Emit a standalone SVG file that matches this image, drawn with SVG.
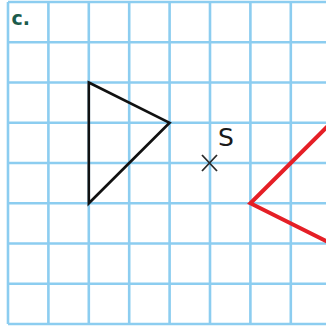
<svg xmlns="http://www.w3.org/2000/svg" width="326" height="329" viewBox="0 0 326 329">
<style>
.grid line{stroke:#8ccdf0;stroke-width:2.6}
.lbl{font-family:"DejaVu Sans",Verdana,sans-serif}
</style>
<rect width="326" height="329" fill="#ffffff"/>
<g class="grid" id="grid">
<line x1="8" y1="2" x2="8" y2="324"/>
<line x1="48.4" y1="2" x2="48.4" y2="324"/>
<line x1="88.8" y1="2" x2="88.8" y2="324"/>
<line x1="129.2" y1="2" x2="129.2" y2="324"/>
<line x1="169.6" y1="2" x2="169.6" y2="324"/>
<line x1="210" y1="2" x2="210" y2="324"/>
<line x1="250.4" y1="2" x2="250.4" y2="324"/>
<line x1="290.8" y1="2" x2="290.8" y2="324"/>
<line x1="8" y1="2" x2="326" y2="2"/>
<line x1="8" y1="42.25" x2="326" y2="42.25"/>
<line x1="8" y1="82.5" x2="326" y2="82.5"/>
<line x1="8" y1="122.75" x2="326" y2="122.75"/>
<line x1="8" y1="163" x2="326" y2="163"/>
<line x1="8" y1="203.25" x2="326" y2="203.25"/>
<line x1="8" y1="243.5" x2="326" y2="243.5"/>
<line x1="8" y1="283.75" x2="326" y2="283.75"/>
<line x1="8" y1="324" x2="326" y2="324"/>
</g>
<text id="label-c" class="lbl" x="11.5" y="25" font-size="19" font-weight="bold" fill="#1b5b4c">c.</text>
<g id="triangle">
<polygon points="88.8,82.5 169.6,122.75 88.8,203.25" fill="none" stroke="#111111" stroke-width="2.6" stroke-linejoin="miter"/>
</g>
<g id="image-triangle">
<polyline points="331.2,122.75 250.4,203.25 331.2,243.5" fill="none" stroke="#e51f26" stroke-width="4" stroke-linejoin="miter"/>
</g>
<g id="centre-S">
<path d="M202,155 L217,171 M202,171 L217,155" stroke="#2a2a2a" stroke-width="1.8" fill="none"/>
<text x="218" y="146" font-family="'DejaVu Sans',sans-serif" font-size="25" fill="#1a1a1a">S</text>
</g>
</svg>
